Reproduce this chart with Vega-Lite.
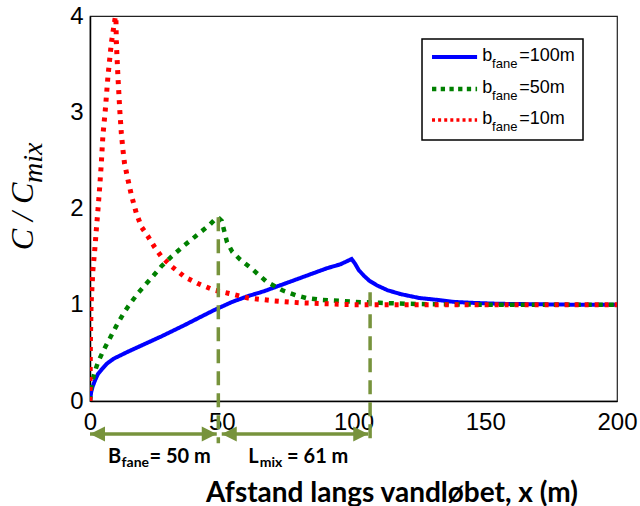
{
  "$schema": "https://vega.github.io/schema/vega-lite/v6.json",
  "width": 527,
  "height": 385,
  "autosize": {"type": "none"},
  "padding": {"left": 90, "top": 16, "right": 23, "bottom": 105},
  "background": "white",
  "config": {"view": {"stroke": "#222", "strokeWidth": 1.2}, "font": "Liberation Sans"},
  "datasets": {
    "curves": [
      {"s":"100","x":0,"y":0},{"s":"100","x":0.5,"y":0.1},{"s":"100","x":1,"y":0.15},{"s":"100","x":2,"y":0.22},{"s":"100","x":3,"y":0.28},{"s":"100","x":4.5,"y":0.33},{"s":"100","x":6.5,"y":0.39},{"s":"100","x":9,"y":0.44},{"s":"100","x":12,"y":0.48},{"s":"100","x":15,"y":0.52},{"s":"100","x":19,"y":0.57},{"s":"100","x":23,"y":0.62},{"s":"100","x":27,"y":0.67},{"s":"100","x":31.5,"y":0.73},{"s":"100","x":36,"y":0.79},{"s":"100","x":41,"y":0.86},{"s":"100","x":46.8,"y":0.94},{"s":"100","x":50,"y":0.98},{"s":"100","x":54,"y":1.03},{"s":"100","x":60,"y":1.09},{"s":"100","x":66,"y":1.14},{"s":"100","x":72,"y":1.2},{"s":"100","x":78,"y":1.26},{"s":"100","x":84,"y":1.32},{"s":"100","x":90,"y":1.38},{"s":"100","x":95,"y":1.42},{"s":"100","x":99.3,"y":1.475},{"s":"100","x":100.5,"y":1.43},{"s":"100","x":102,"y":1.36},{"s":"100","x":104,"y":1.3},{"s":"100","x":106,"y":1.25},{"s":"100","x":109,"y":1.2},{"s":"100","x":113,"y":1.15},{"s":"100","x":118,"y":1.11},{"s":"100","x":125,"y":1.07},{"s":"100","x":132,"y":1.05},{"s":"100","x":138,"y":1.03},{"s":"100","x":145,"y":1.02},{"s":"100","x":155,"y":1.01},{"s":"100","x":170,"y":1.005},{"s":"100","x":185,"y":1.0},{"s":"100","x":200,"y":1.0},
      {"s":"50","x":0,"y":0},{"s":"50","x":0.5,"y":0.15},{"s":"50","x":1,"y":0.22},{"s":"50","x":2,"y":0.32},{"s":"50","x":3,"y":0.4},{"s":"50","x":5,"y":0.52},{"s":"50","x":7.5,"y":0.65},{"s":"50","x":10,"y":0.78},{"s":"50","x":12.5,"y":0.9},{"s":"50","x":14.4,"y":0.98},{"s":"50","x":18.2,"y":1.12},{"s":"50","x":21.4,"y":1.22},{"s":"50","x":24,"y":1.3},{"s":"50","x":27.1,"y":1.4},{"s":"50","x":30.9,"y":1.5},{"s":"50","x":35.9,"y":1.62},{"s":"50","x":39.1,"y":1.69},{"s":"50","x":42.2,"y":1.76},{"s":"50","x":45.4,"y":1.83},{"s":"50","x":47.9,"y":1.9},{"s":"50","x":48.5,"y":1.91},{"s":"50","x":50,"y":1.87},{"s":"50","x":51,"y":1.76},{"s":"50","x":52,"y":1.65},{"s":"50","x":54,"y":1.55},{"s":"50","x":57,"y":1.47},{"s":"50","x":62,"y":1.36},{"s":"50","x":67,"y":1.24},{"s":"50","x":73,"y":1.15},{"s":"50","x":78,"y":1.1},{"s":"50","x":82,"y":1.07},{"s":"50","x":88,"y":1.05},{"s":"50","x":95,"y":1.04},{"s":"50","x":100,"y":1.03},{"s":"50","x":110,"y":1.02},{"s":"50","x":120,"y":1.01},{"s":"50","x":130,"y":1.005},{"s":"50","x":150,"y":1.0},{"s":"50","x":200,"y":1.0},
      {"s":"10","x":0,"y":0},{"s":"10","x":0.15,"y":0.6},{"s":"10","x":0.4,"y":1.0},{"s":"10","x":1.1,"y":1.36},{"s":"10","x":1.8,"y":1.57},{"s":"10","x":2.4,"y":1.78},{"s":"10","x":3.0,"y":1.98},{"s":"10","x":3.7,"y":2.23},{"s":"10","x":4.3,"y":2.47},{"s":"10","x":4.9,"y":2.76},{"s":"10","x":5.8,"y":3.02},{"s":"10","x":6.8,"y":3.37},{"s":"10","x":8.1,"y":3.72},{"s":"10","x":9.6,"y":3.99},{"s":"10","x":9.8,"y":4.05},{"s":"10","x":10.0,"y":3.72},{"s":"10","x":10.6,"y":3.37},{"s":"10","x":11.3,"y":3.02},{"s":"10","x":11.9,"y":2.78},{"s":"10","x":12.5,"y":2.61},{"s":"10","x":13.1,"y":2.47},{"s":"10","x":14.4,"y":2.3},{"s":"10","x":15.7,"y":2.14},{"s":"10","x":17.6,"y":1.95},{"s":"10","x":19.5,"y":1.81},{"s":"10","x":22,"y":1.71},{"s":"10","x":24.5,"y":1.6},{"s":"10","x":27.1,"y":1.5},{"s":"10","x":30.9,"y":1.4},{"s":"10","x":35.9,"y":1.29},{"s":"10","x":41,"y":1.22},{"s":"10","x":47.3,"y":1.15},{"s":"10","x":52.4,"y":1.12},{"s":"10","x":60,"y":1.07},{"s":"10","x":70,"y":1.04},{"s":"10","x":80,"y":1.02},{"s":"10","x":90,"y":1.01},{"s":"10","x":100,"y":1.0},{"s":"10","x":200,"y":1.0}
    ],
    "guides": [{"x": 48.7, "top": 1.91}, {"x": 106.3, "top": 1.13}],
    "spans": [{"from": 0, "to": 48.1}, {"from": 50, "to": 105.6}]
  },
  "layer": [
    {
      "data": {"name": "curves"},
      "mark": {"type": "line", "clip": true, "strokeCap": "butt", "strokeJoin": "miter"},
      "encoding": {
        "x": {"field": "x", "type": "quantitative", "scale": {"domain": [0, 200], "nice": false},
          "axis": {"values": [0, 50, 100, 150, 200], "format": "d", "grid": false, "ticks": false, "domainColor": "#000", "domainWidth": 1.5,
            "labelFont": "Liberation Sans", "labelFontSize": 24, "labelColor": "#000", "labelPadding": 9, "labelFlush": false, "labelOverlap": false,
            "title": "Afstand langs vandløbet, x (m)", "titleFont": "Lato", "titleFontSize": 28, "titleFontWeight": "bold", "titleColor": "#000",
            "titleX": 301.5, "titleY": 100, "titleAlign": "center", "titleBaseline": "alphabetic"}},
        "y": {"field": "y", "type": "quantitative", "scale": {"domain": [0, 4], "nice": false},
          "axis": {"values": [0, 1, 2, 3, 4], "format": "d", "grid": false, "ticks": false, "domainColor": "#000", "domainWidth": 1.5,
            "labelFont": "Liberation Sans", "labelFontSize": 24, "labelColor": "#000", "labelPadding": 7, "labelFlush": false, "title": null}},
        "color": {"field": "s", "type": "nominal", "scale": {"domain": ["100", "50", "10"], "range": ["#0000FF", "#008000", "#FF0000"]}, "legend": null},
        "strokeDash": {"field": "s", "type": "nominal", "scale": {"domain": ["100", "50", "10"], "range": [[1, 0], [5, 6], [4, 6]]}, "legend": null},
        "strokeWidth": {"field": "s", "type": "ordinal", "scale": {"domain": ["100", "50", "10"], "range": [4, 5, 4]}, "legend": null}
      }
    },
    {
      "data": {"name": "guides"},
      "mark": {"type": "rule", "color": "#77933C", "strokeWidth": 3.5, "strokeDash": [14, 8], "strokeCap": "butt"},
      "encoding": {"x": {"field": "x", "type": "quantitative"}, "y": {"field": "top", "type": "quantitative"}, "y2": {"datum": -0.44}}
    },
    {
      "data": {"name": "spans"},
      "mark": {"type": "rule", "color": "#77933C", "strokeWidth": 3.5, "strokeCap": "butt"},
      "encoding": {"x": {"field": "from", "type": "quantitative"}, "x2": {"field": "to"}, "y": {"datum": -0.343}}
    },
    {
      "data": {"name": "spans"},
      "mark": {"type": "point", "shape": "M0,0L1,-0.5L1,0.5Z", "size": 900, "filled": true, "color": "#77933C", "opacity": 1, "strokeWidth": 0},
      "encoding": {"x": {"field": "from", "type": "quantitative"}, "y": {"datum": -0.343}}
    },
    {
      "data": {"name": "spans"},
      "mark": {"type": "point", "shape": "M0,0L-1,-0.5L-1,0.5Z", "size": 900, "filled": true, "color": "#77933C", "opacity": 1, "strokeWidth": 0},
      "encoding": {"x": {"field": "to", "type": "quantitative"}, "y": {"datum": -0.343}}
    },
    {"data": {"values": [{}]}, "mark": {"type": "text", "text": "B", "font": "Lato", "fontWeight": "bold", "fontSize": 20, "align": "left", "baseline": "alphabetic", "color": "#000"},
      "encoding": {"x": {"datum": 6.83}, "y": {"datum": -0.64}}},
    {"data": {"values": [{}]}, "mark": {"type": "text", "text": "fane", "font": "Lato", "fontWeight": "bold", "fontSize": 14, "align": "left", "baseline": "alphabetic", "color": "#000"},
      "encoding": {"x": {"datum": 12.0}, "y": {"datum": -0.69}}},
    {"data": {"values": [{}]}, "mark": {"type": "text", "text": "= 50 m", "font": "Lato", "fontWeight": "bold", "fontSize": 20, "align": "left", "baseline": "alphabetic", "color": "#000"},
      "encoding": {"x": {"datum": 22.6}, "y": {"datum": -0.64}}},
    {"data": {"values": [{}]}, "mark": {"type": "text", "text": "L", "font": "Lato", "fontWeight": "bold", "fontSize": 20, "align": "left", "baseline": "alphabetic", "color": "#000"},
      "encoding": {"x": {"datum": 60.1}, "y": {"datum": -0.64}}},
    {"data": {"values": [{}]}, "mark": {"type": "text", "text": "mix", "font": "Lato", "fontWeight": "bold", "fontSize": 14, "align": "left", "baseline": "alphabetic", "color": "#000"},
      "encoding": {"x": {"datum": 64.4}, "y": {"datum": -0.69}}},
    {"data": {"values": [{}]}, "mark": {"type": "text", "text": "= 61 m", "font": "Lato", "fontWeight": "bold", "fontSize": 20, "align": "left", "baseline": "alphabetic", "color": "#000"},
      "encoding": {"x": {"datum": 74.8}, "y": {"datum": -0.64}}},
    {"data": {"values": [{}]}, "mark": {"type": "text", "text": "C / C", "font": "Liberation Serif", "fontStyle": "italic", "fontSize": 32, "angle": 270, "align": "center", "baseline": "alphabetic", "color": "#000"},
      "encoding": {"x": {"datum": -21.6}, "y": {"datum": 1.917}}},
    {"data": {"values": [{}]}, "mark": {"type": "text", "text": "mix", "font": "Liberation Serif", "fontStyle": "italic", "fontSize": 28, "angle": 270, "align": "center", "baseline": "alphabetic", "color": "#000"},
      "encoding": {"x": {"datum": -18.2}, "y": {"datum": 2.475}}},
    {"data": {"values": [{}]}, "mark": {"type": "rect", "fill": "white", "stroke": "#000", "strokeWidth": 1.5},
      "encoding": {"x": {"datum": 126.0}, "x2": {"datum": 187.1}, "y": {"datum": 3.761}, "y2": {"datum": 2.712}}},
    {"data": {"values": [{}]}, "mark": {"type": "rule", "color": "#0000FF", "strokeWidth": 4, "strokeCap": "butt"},
      "encoding": {"x": {"datum": 129.8}, "x2": {"datum": 146.9}, "y": {"datum": 3.574}}},
    {"data": {"values": [{}]}, "mark": {"type": "rule", "color": "#008000", "strokeWidth": 4.5, "strokeDash": [4.3, 4.4], "strokeCap": "butt"},
      "encoding": {"x": {"datum": 129.8}, "x2": {"datum": 146.9}, "y": {"datum": 3.242}}},
    {"data": {"values": [{}]}, "mark": {"type": "rule", "color": "#FF0000", "strokeWidth": 3.5, "strokeDash": [3, 3.1], "strokeCap": "butt"},
      "encoding": {"x": {"datum": 129.8}, "x2": {"datum": 146.9}, "y": {"datum": 2.919}}},
    {"data": {"values": [{}]}, "mark": {"type": "text", "text": "b", "fontSize": 18, "align": "left", "baseline": "alphabetic", "color": "#000"},
      "encoding": {"x": {"datum": 148.9}, "y": {"datum": 3.532}}},
    {"data": {"values": [{}]}, "mark": {"type": "text", "text": "fane", "fontSize": 13, "align": "left", "baseline": "alphabetic", "color": "#000"},
      "encoding": {"x": {"datum": 152.6}, "y": {"datum": 3.46}}},
    {"data": {"values": [{}]}, "mark": {"type": "text", "text": "=100m", "fontSize": 18, "align": "left", "baseline": "alphabetic", "color": "#000"},
      "encoding": {"x": {"datum": 162.9}, "y": {"datum": 3.532}}},
    {"data": {"values": [{}]}, "mark": {"type": "text", "text": "b", "fontSize": 18, "align": "left", "baseline": "alphabetic", "color": "#000"},
      "encoding": {"x": {"datum": 148.9}, "y": {"datum": 3.2}}},
    {"data": {"values": [{}]}, "mark": {"type": "text", "text": "fane", "fontSize": 13, "align": "left", "baseline": "alphabetic", "color": "#000"},
      "encoding": {"x": {"datum": 152.6}, "y": {"datum": 3.127}}},
    {"data": {"values": [{}]}, "mark": {"type": "text", "text": "=50m", "fontSize": 18, "align": "left", "baseline": "alphabetic", "color": "#000"},
      "encoding": {"x": {"datum": 162.9}, "y": {"datum": 3.2}}},
    {"data": {"values": [{}]}, "mark": {"type": "text", "text": "b", "fontSize": 18, "align": "left", "baseline": "alphabetic", "color": "#000"},
      "encoding": {"x": {"datum": 148.9}, "y": {"datum": 2.875}}},
    {"data": {"values": [{}]}, "mark": {"type": "text", "text": "fane", "fontSize": 13, "align": "left", "baseline": "alphabetic", "color": "#000"},
      "encoding": {"x": {"datum": 152.6}, "y": {"datum": 2.805}}},
    {"data": {"values": [{}]}, "mark": {"type": "text", "text": "=10m", "fontSize": 18, "align": "left", "baseline": "alphabetic", "color": "#000"},
      "encoding": {"x": {"datum": 162.9}, "y": {"datum": 2.875}}}
  ]
}
